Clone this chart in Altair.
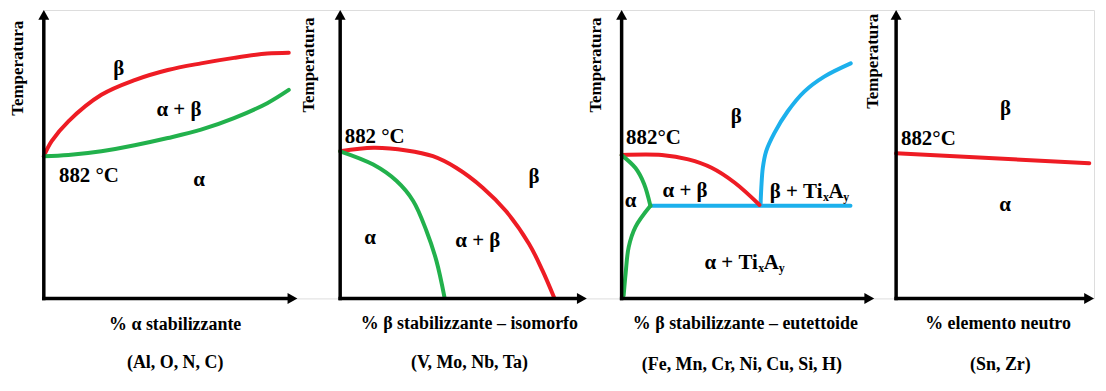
import altair as alt
import pandas as pd

FONT = "Liberation Serif"
RED = "#EE1C24"
GREEN = "#22B14C"
BLUE = "#1CB0EC"

# ---------------- data (x: % alloying element, arrow tip = 100; y: temperature, arrow tip = 100)
# Panel 1 - alpha stabilisers
p1_red_x = [0, 3.1, 9.7, 22.7, 35.8, 48.9, 62.0, 75.0, 88.1, 96.6]
p1_red_y = [49.3, 54.5, 61.4, 70.6, 75.7, 79.2, 81.5, 83.4, 84.9, 85.2]
p1_green_x = [0, 9.7, 22.7, 35.8, 48.9, 62.0, 75.0, 88.1, 96.6]
p1_green_y = [49.3, 49.7, 51.0, 53.1, 55.6, 58.5, 62.5, 67.7, 72.3]
p1_lab_text = ["β", "α + β", "882 °C", "α"]
p1_lab_x = [29.6, 53.3, 17.8, 61.2]
p1_lab_y = [79.5, 65.2, 42.4, 40.9]

# Panel 2 - beta isomorphous
p2_red_x = [0, 13.4, 26.9, 37.6, 47.0, 57.8, 67.2, 76.6, 82.0, 86.7]
p2_red_y = [51.0, 52.2, 51.3, 49.3, 45.3, 38.4, 30.3, 18.9, 9.7, 0.4]
p2_green_x = [0, 13.4, 22.9, 29.6, 35.0, 39.0, 42.3]
p2_green_y = [51.0, 46.4, 40.7, 33.8, 23.4, 13.1, 0.4]
p2_lab_text = ["882 °C", "β", "α", "α + β"]
p2_lab_x = [14.0, 78.6, 12.1, 55.8]
p2_lab_y = [56.0, 42.1, 21.1, 20.0]

# Panel 3 - beta eutectoid
p3_red_x = [0, 15.9, 26.4, 35.6, 44.8, 54.6]
p3_red_y = [49.7, 49.7, 48.2, 45.3, 40.1, 32.4]
p3_green_up_x = [0, 5.5, 8.9, 11.4]
p3_green_up_y = [49.7, 45.2, 39.7, 32.1]
p3_green_lo_x = [11.4, 5.5, 2.8, 1.6, 0.8]
p3_green_lo_y = [32.1, 24.8, 17.8, 8.8, 1.0]
p3_blue_h_x = [11.4, 90.6]
p3_blue_h_y = [32.1, 32.1]
p3_blue_c_x = [55.0, 55.3, 55.9, 57.2, 60.5, 65.7, 72.3, 80.2, 90.7]
p3_blue_c_y = [32.4, 38.4, 45.3, 51.0, 57.4, 64.8, 71.7, 76.9, 81.5]
p3_lab_text = ["882°C", "β", "α + β", "α"]
p3_lab_x = [12.6, 45.4, 25.1, 3.5]
p3_lab_y = [55.6, 62.8, 37.2, 33.8]
# compound labels "β + TixAy" and "α + TixAy"
p3_comp_main = ["β + Ti", "α + Ti"]
p3_comp_x = [79.5, 53.9]
p3_comp_y = [36.9, 12.4]

# Panel 4 - neutral
p4_red_x = [0, 97.6]
p4_red_y = [50.3, 46.9]
p4_lab_text = ["882°C", "β", "α"]
p4_lab_x = [16.3, 55.3, 55.1]
p4_lab_y = [55.3, 65.7, 32.4]

x_titles = ["% α stabilizzante", "% β stabilizzante – isomorfo",
            "% β stabilizzante – eutettoide", "% elemento neutro"]
x_title_x = [51.8, 52.4, 49.0, 51.5]
x_title_y = [-9.2, -9.0, -9.0, -9.0]
sub_titles = ["(Al, O, N, C)", "(V, Mo, Nb, Ta)", "(Fe, Mn, Cr, Ni, Cu, Si, H)", "(Sn, Zr)"]
sub_title_x = [51.8, 52.4, 47.6, 52.7]
sub_title_y = [-22.4, -22.4, -23.1, -23.1]
y_title = "Temperatura"
y_title_x = [-10.2, -12.5, -10.0, -11.7]
y_title_y = [79.8, 80.9, 80.9, 82.2]

# layout (pixels)
HEIGHT = 290
panel_w = [298, 283, 276, 199]       # distance between consecutive vertical axes
arrow_len = [255, 248, 254, 199]     # axis length in pixels
x_dom = [100.0 * w / a for w, a in zip(panel_w, arrow_len)]

LAB = 21      # phase labels
TIT = 18      # x titles / element lists
YT = 17       # y title


def enc(xmax):
    return dict(
        x=alt.X("x:Q", scale=alt.Scale(domain=[0, xmax], nice=False, zero=False), axis=None),
        y=alt.Y("y:Q", scale=alt.Scale(domain=[0, 100], nice=False, zero=False), axis=None),
    )


def curve(xs, ys, color, xmax, interp="catmull-rom"):
    df = pd.DataFrame({"x": xs, "y": ys, "i": list(range(len(xs)))})
    return alt.Chart(df).mark_line(color=color, strokeWidth=4, interpolate=interp,
                                   strokeCap="round").encode(order="i:Q", **enc(xmax))


def texts(xs, ys, ts, xmax, size=LAB, angle=0, align="center", dx=0, dy=0):
    df = pd.DataFrame({"x": xs, "y": ys, "t": ts})
    kw = dict(font=FONT, fontWeight="bold", fontSize=size, color="black", align=align,
              baseline="middle", dx=dx, dy=dy)
    if angle:
        kw["angle"] = angle
    return alt.Chart(df).mark_text(**kw).encode(text="t:N", **enc(xmax))


def axes(xmax):
    e = enc(xmax)
    v = alt.Chart(pd.DataFrame({"x": [0], "y": [0], "y2": [100]})).mark_rule(
        color="black", strokeWidth=3.5, strokeCap="square", y2Offset=6
    ).encode(y2="y2:Q", **e)
    h = alt.Chart(pd.DataFrame({"x": [0], "x2": [100], "y": [0]})).mark_rule(
        color="black", strokeWidth=3.5, strokeCap="square", x2Offset=-6
    ).encode(x2="x2:Q", **e)
    up = alt.Chart(pd.DataFrame({"x": [0], "y": [100]})).mark_point(
        shape="M0,-1L1,0.8L-1,0.8Z", size=121, filled=True, color="black", opacity=1,
        strokeWidth=0, yOffset=5.5
    ).encode(**e)
    right = alt.Chart(pd.DataFrame({"x": [100], "y": [0]})).mark_point(
        shape="M1,0L-0.8,-1L-0.8,1Z", size=121, filled=True, color="black", opacity=1,
        strokeWidth=0, xOffset=-5.5
    ).encode(**e)
    return [v, h, up, right]


def titles(k, xmax):
    return [
        texts([x_title_x[k]], [x_title_y[k]], [x_titles[k]], xmax, size=TIT),
        texts([sub_title_x[k]], [sub_title_y[k]], [sub_titles[k]], xmax, size=TIT),
        texts([y_title_x[k]], [y_title_y[k]], [y_title], xmax, size=YT, angle=270),
    ]


d = x_dom[0]
p1 = alt.layer(
    curve(p1_red_x, p1_red_y, RED, d),
    curve(p1_green_x, p1_green_y, GREEN, d),
    *axes(d),
    texts(p1_lab_x, p1_lab_y, p1_lab_text, d),
    *titles(0, d),
).properties(width=panel_w[0], height=HEIGHT)

d = x_dom[1]
p2 = alt.layer(
    curve(p2_red_x, p2_red_y, RED, d),
    curve(p2_green_x, p2_green_y, GREEN, d),
    *axes(d),
    texts(p2_lab_x, p2_lab_y, p2_lab_text, d),
    *titles(1, d),
).properties(width=panel_w[1], height=HEIGHT)

d = x_dom[2]
p3 = alt.layer(
    curve(p3_blue_h_x, p3_blue_h_y, BLUE, d, interp="linear"),
    curve(p3_blue_c_x, p3_blue_c_y, BLUE, d),
    curve(p3_red_x, p3_red_y, RED, d),
    curve(p3_green_up_x, p3_green_up_y, GREEN, d),
    curve(p3_green_lo_x, p3_green_lo_y, GREEN, d),
    *axes(d),
    texts(p3_lab_x, p3_lab_y, p3_lab_text, d),
    texts(p3_comp_x, p3_comp_y, p3_comp_main, d, align="right"),
    texts(p3_comp_x, p3_comp_y, ["x", "x"], d, size=12, align="left", dx=0.5, dy=5),
    texts(p3_comp_x, p3_comp_y, ["A", "A"], d, align="left", dx=6),
    texts(p3_comp_x, p3_comp_y, ["y", "y"], d, size=12, align="left", dx=21, dy=5),
    *titles(2, d),
).properties(width=panel_w[2], height=HEIGHT)

d = x_dom[3]
p4 = alt.layer(
    curve(p4_red_x, p4_red_y, RED, d, interp="linear"),
    *axes(d),
    texts(p4_lab_x, p4_lab_y, p4_lab_text, d),
    *titles(3, d),
).properties(width=panel_w[3], height=HEIGHT)

chart = alt.hconcat(p1, p2, p3, p4, spacing=0, bounds="flush").properties(
    padding={"left": 0, "top": 0, "right": 0, "bottom": 0}
).configure_view(stroke=None).configure(background="white")

chart.save("out.html", embed_options={"renderer": "svg", "actions": False})
